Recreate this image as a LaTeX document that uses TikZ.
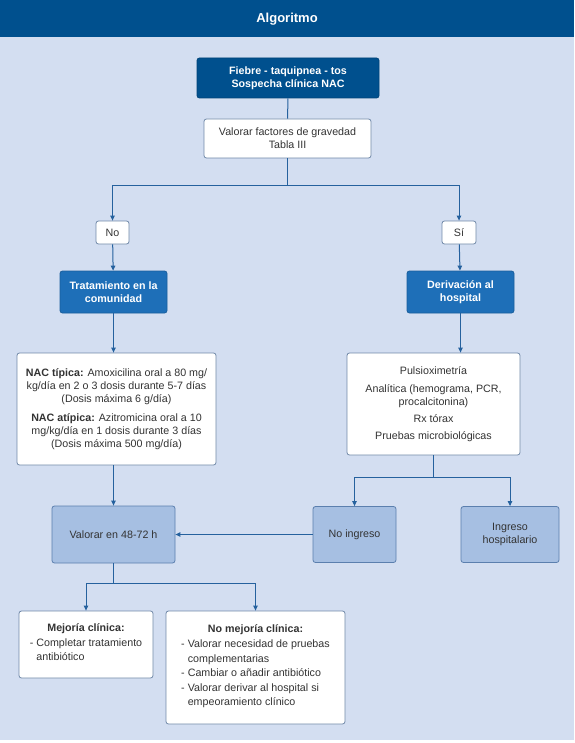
\documentclass[tikz,border=0pt]{standalone}
\usepackage{fontspec}
\setmainfont{Liberation Sans}
\usetikzlibrary{arrows.meta}
\definecolor{hdr}{HTML}{00508E}
\definecolor{midb}{HTML}{1E6FB8}
\definecolor{lightf}{HTML}{A6BFE2}
\definecolor{lightd}{HTML}{5B7FAE}
\definecolor{bgc}{HTML}{D3DEF1}
\definecolor{wbd}{HTML}{7088A8}
\definecolor{lc}{HTML}{25619E}
\definecolor{txt}{HTML}{333333}
\tikzset{
  boxbase/.style={rounded corners=2.5pt, line width=0.8pt, inner sep=0pt, align=center,
    font=\fontsize{10.7}{13}\selectfont},
  darkbox/.style={boxbase, fill=hdr, draw=hdr!85!black, text=white, font=\bfseries\fontsize{10.7}{12.5}\selectfont},
  midbox/.style={boxbase, fill=midb, draw=midb!85!black, text=white, font=\bfseries\fontsize{10.7}{12.5}\selectfont},
  lightbox/.style={boxbase, fill=lightf, draw=lightd, text=txt},
  whitebox/.style={boxbase, fill=white, draw=wbd, text=txt},
  conn/.style={draw=lc, line width=1pt},
  arr/.style={conn, -{Triangle[length=5pt,width=4.5pt]}}
}
\begin{document}
\begin{tikzpicture}[x=1pt,y=-1pt]
\useasboundingbox (0,0) rectangle (574,743);
\fill[white] (0,0) rectangle (574,743);
\fill[bgc] (0,37) rectangle (574,740);
\fill[hdr] (0,0) rectangle (574,37);
\node[text=white, font=\bfseries\fontsize{13}{15}\selectfont] (title) at (287,19) {Algoritmo};

\node[darkbox, minimum width=182pt, minimum height=40pt] (fiebre) at (288,78)
  {Fiebre - taquipnea - tos\\Sospecha clínica NAC};
\node[whitebox, minimum width=167pt, minimum height=39pt] (val) at (287.5,138.5)
  {Valorar factores de gravedad\\Tabla III};
\node[whitebox, minimum width=33pt, minimum height=23pt] (no) at (112.5,232.5) {No};
\node[whitebox, minimum width=34pt, minimum height=23pt] (si) at (459,232.5) {Sí};
\node[midbox, minimum width=107pt, minimum height=42pt] (trat) at (113.5,292)
  {Tratamiento en la\\comunidad};
\node[midbox, minimum width=107pt, minimum height=42pt] (der) at (460.5,292)
  {Derivación al\\hospital};
\node[whitebox, minimum width=199pt, minimum height=112pt] (nac) at (116.5,409)
  {\textbf{NAC típica:} Amoxicilina oral a 80 mg/\\kg/día en 2 o 3 dosis durante 5-7 días\\(Dosis máxima 6 g/día)\\[6pt]
   \textbf{NAC atípica:} Azitromicina oral a 10\\mg/kg/día en 1 dosis durante 3 días\\(Dosis máxima 500 mg/día)};
\node[whitebox, minimum width=173pt, minimum height=102pt] (pru) at (433.5,404)
  {Pulsioximetría\\[5pt]Analítica (hemograma, PCR,\\procalcitonina)\\[4pt]Rx tórax\\[4pt]Pruebas microbiológicas};
\node[lightbox, minimum width=123pt, minimum height=57pt] (v48) at (113.5,534.5) {Valorar en 48-72 h};
\node[lightbox, minimum width=83pt, minimum height=56pt] (noing) at (354.5,534.5) {No ingreso};
\node[lightbox, minimum width=98pt, minimum height=56pt] (ing) at (510,534.5) {Ingreso\\hospitalario};
\node[whitebox, minimum width=134pt, minimum height=67pt, font=\fontsize{10.7}{14}\selectfont] (mej) at (86,644.5)
  {\textbf{Mejoría clínica:}\\[2pt]
   \begin{tabular}{@{}l@{\hspace{3pt}}l@{}}-&Completar tratamiento\\&antibiótico\end{tabular}};
\node[whitebox, minimum width=179pt, minimum height=113pt, font=\fontsize{10.7}{14.5}\selectfont] (nomej) at (255.5,667.5)
  {\textbf{No mejoría clínica:}\\[2pt]
   \begin{tabular}{@{}l@{\hspace{3pt}}l@{}}-&Valorar necesidad de pruebas\\&complementarias\\-&Cambiar o añadir antibiótico\\-&Valorar derivar al hospital si\\&empeoramiento clínico\end{tabular}};

\coordinate (s1) at (287.5,186);
\coordinate (s2) at (433.5,477);
\coordinate (s3) at (113.5,583);
\draw[conn] (fiebre) -- (val);
\draw[conn] (val.south) -- (s1);
\draw[arr] (s1) -| (no.north);
\draw[arr] (s1) -| (si.north);
\draw[arr] (no) -- (trat);
\draw[arr] (si) -- (der);
\draw[arr] (trat.south) -- (trat.south |- nac.north);
\draw[arr] (der.south) -- (der.south |- pru.north);
\draw[arr] (v48.north |- nac.south) -- (v48.north);
\draw[conn] (pru.south) -- (s2);
\draw[arr] (s2) -| (noing.north);
\draw[arr] (s2) -| (ing.north);
\draw[arr] (noing.west) -- (v48.east);
\draw[conn] (v48.south) -- (s3);
\draw[arr] (s3) -| (mej.north);
\draw[arr] (s3) -| (nomej.north);
\end{tikzpicture}
\end{document}
